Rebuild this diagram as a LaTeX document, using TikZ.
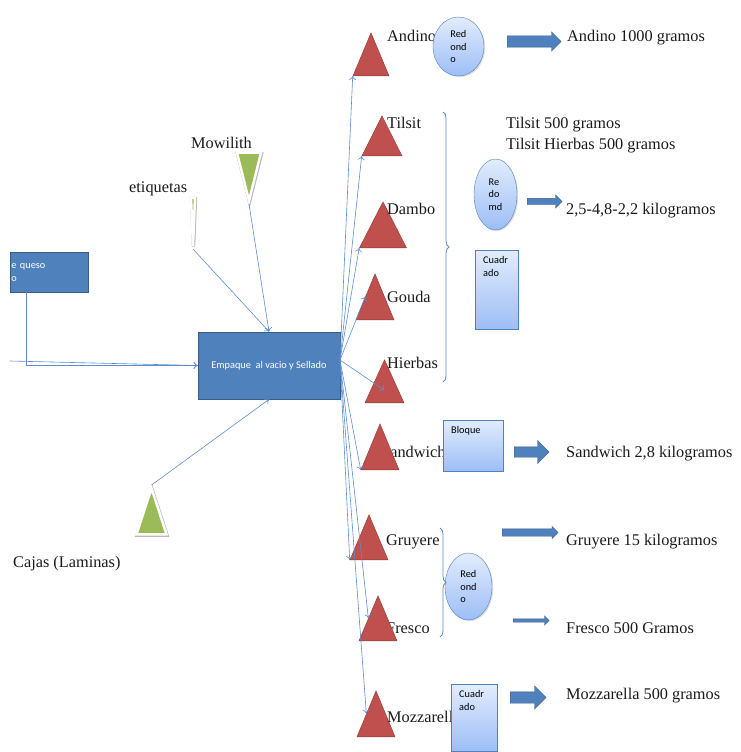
\documentclass[tikz,border=0pt]{standalone}
\usepackage{fontspec}
\setmainfont{Liberation Serif}
\newfontfamily\calibri{Carlito}
\usetikzlibrary{arrows.meta,shapes,shapes.geometric,shapes.arrows,positioning,calc,shadows,decorations.pathreplacing}
\definecolor{boxfill}{RGB}{79,129,189}
\definecolor{boxline}{RGB}{56,93,138}
\definecolor{trifill}{RGB}{192,80,77}
\definecolor{tridark}{RGB}{140,56,54}
\definecolor{greenfill}{RGB}{155,187,89}
\definecolor{linecol}{RGB}{91,141,207}
\definecolor{paletop}{RGB}{226,236,253}
\definecolor{palebottom}{RGB}{156,190,246}
\definecolor{textcol}{RGB}{26,26,26}
\tikzset{
  basic/.style  = {inner sep=0pt, text=textcol, font=\fontsize{16.3}{19}\selectfont},
  lbl/.style    = {basic, anchor=base west},
  bluebox/.style = {draw=boxline, fill=boxfill, thick, text=white, font=\calibri\fontsize{10.3}{12.7}\selectfont},
  qbox/.style   = {bluebox, align=left, text width=76pt, inner xsep=1pt, minimum height=40pt},
  pale/.style   = {draw=boxfill, thin, top color=paletop, bottom color=palebottom, align=left,
  font=\calibri\fontsize{10.3}{12.7}\selectfont,
  drop shadow={opacity=0.25, shadow xshift=1.2pt, shadow yshift=-1.2pt}},
  roundbox/.style = {pale, ellipse, inner sep=0pt},
  squarebox/.style = {pale, rectangle, inner sep=0pt},
  boxtext/.style = {anchor=north west, inner sep=0pt, align=left, xshift=8pt, yshift=-6.5pt,
  font=\calibri\fontsize{10.3}{12.7}\selectfont},
  redtri/.style = {isosceles triangle, isosceles triangle stretches, shape border rotate=90,
  draw=tridark, fill=trifill, inner sep=0pt, anchor=lower side},
  greentri/.style = {isosceles triangle, isosceles triangle stretches, draw=white, line width=2.5pt,
  fill=greenfill, inner sep=0pt,
  preaction={draw=black!28, line width=3.4pt, transform canvas={shift={(0.5pt,-0.9pt)}}}},
  bigarrow/.style = {single arrow, draw=boxline, fill=boxfill, inner xsep=0pt, anchor=tail},
  link/.style   = {->, >={To[length=4pt,width=7pt]}, color=linecol, line width=0.6pt},
  bracket/.style = {decorate, decoration={brace, amplitude=6pt}, color=linecol, line width=0.8pt}
}

\begin{document}
\begin{tikzpicture}[x=1pt,y=-1pt]
\useasboundingbox (0,0) rectangle (740,752);

\node[qbox, anchor=north west] (queso) at (10,252) {e queso\\o};
\node[bluebox, minimum width=142pt, minimum height=67pt] (empaque) at (269,365.5) {Empaque\ \ al vacio y Sellado};

\node[greentri, shape border rotate=270, minimum width=24pt, minimum height=48pt, anchor=apex] (mowilith) at (249,204) {};
\node[greentri, shape border rotate=270, minimum width=4pt, minimum height=48pt, anchor=apex] (etiquetas) at (193,249) {};
\node[greentri, shape border rotate=90, minimum width=30pt, minimum height=46pt, anchor=apex] (cajas) at (151.5,485) {};
\node[lbl] (mowilithLbl) at (191,148) {Mowilith};
\node[lbl] (etiquetasLbl) at (129,192) {etiquetas};
\node[lbl] (cajasLbl) at (13,567) {Cajas (Laminas)};

\node[lbl] (sandwichLbl) at (381,457) {Sandwich};
\node[lbl] (frescoLbl) at (386,633) {Fresco};

\node[redtri, minimum width=36pt, minimum height=43pt] (andino) at (371,76) {};
\node[redtri, minimum width=40pt, minimum height=40pt] (tilsit) at (382,156) {};
\node[redtri, minimum width=47pt, minimum height=46pt] (dambo) at (383,248) {};
\node[redtri, minimum width=38pt, minimum height=46pt] (gouda) at (375,320) {};
\node[redtri, minimum width=39pt, minimum height=43pt] (hierbas) at (384.5,403) {};
\node[redtri, minimum width=38pt, minimum height=46pt] (sandwich) at (380,470) {};
\node[redtri, minimum width=38pt, minimum height=45pt] (gruyere) at (369,560) {};
\node[redtri, minimum width=38pt, minimum height=45pt] (fresco) at (378,641) {};
\node[redtri, minimum width=38pt, minimum height=46pt] (mozzarella) at (376,737) {};

\node[lbl] (andinoLbl) at (387,42) {Andino};
\node[lbl] (tilsitLbl) at (387,128) {Tilsit};
\node[lbl] (damboLbl) at (387,214) {Dambo};
\node[lbl] (goudaLbl) at (387,302) {Gouda};
\node[lbl] (hierbasLbl) at (387,368) {Hierbas};
\node[lbl] (gruyereLbl) at (386,545) {Gruyere};
\node[lbl] (mozzarellaLbl) at (387,722) {Mozzarella};

\node[roundbox, minimum width=51pt, minimum height=59pt] (andinoForm) at (458.5,46.5) {Red\\ond\\o};
\node[roundbox, minimum width=43pt, minimum height=71pt] (damboForm) at (495.5,194.5) {Re\\do\\md};
\node[squarebox, minimum width=43pt, minimum height=79pt, anchor=north west] (tilsitForm) at (475,250) {};
\node[boxtext] (tilsitFormTxt) at (tilsitForm.north west) {Cuadr\\ado};
\node[squarebox, minimum width=60pt, minimum height=51pt, anchor=north west] (sandwichForm) at (443,420) {};
\node[boxtext] (sandwichFormTxt) at (sandwichForm.north west) {Bloque};
\node[roundbox, minimum width=47pt, minimum height=67pt] (gruyereForm) at (468.5,586.5) {Red\\ond\\o};
\node[squarebox, minimum width=46pt, minimum height=67pt, anchor=north west] (mozzarellaForm) at (451,684) {};
\node[boxtext] (mozzarellaFormTxt) at (mozzarellaForm.north west) {Cuadr\\ado};

\node[bigarrow, minimum height=54pt, inner ysep=5.5pt, single arrow head extend=4pt] (andinoArrow) at (507,41.5) {};
\node[bigarrow, minimum height=35pt, inner ysep=3pt, single arrow head extend=3.5pt] (damboArrow) at (527,201.5) {};
\node[bigarrow, minimum height=35pt, inner ysep=5pt, single arrow head extend=6.5pt] (sandwichArrow) at (514,452) {};
\node[bigarrow, minimum height=56pt, inner ysep=3.5pt, single arrow head extend=2.5pt] (gruyereArrow) at (502,532.5) {};
\node[bigarrow, minimum height=36pt, inner ysep=1.5pt, single arrow head extend=3pt] (frescoArrow) at (513,620.5) {};
\node[bigarrow, minimum height=36pt, inner ysep=5.5pt, single arrow head extend=6pt] (mozzarellaArrow) at (510,697.5) {};

\node[lbl] (andinoOut) at (567,42) {Andino 1000 gramos};
\node[lbl] (tilsitOut) at (506,128) {Tilsit 500 gramos};
\node[lbl] (tilsitHierbasOut) at (506,149) {Tilsit Hierbas 500 gramos};
\node[lbl] (damboOut) at (566,214) {2,5-4,8-2,2 kilogramos};
\node[lbl] (sandwichOut) at (566,457) {Sandwich 2,8 kilogramos};
\node[lbl] (gruyereOut) at (566,545) {Gruyere 15 kilogramos};
\node[lbl] (frescoOut) at (566,633) {Fresco 500 Gramos};
\node[lbl] (mozzarellaOut) at (566,699) {Mozzarella 500 gramos};

\draw[bracket] (443,112) -- (443,382);
\draw[bracket] (440,528) -- (440,637);

\coordinate (hub) at (340,360);
\coordinate (quesoDrop) at (26,292);
\coordinate (leftIn) at (10,361);
\path[link] (quesoDrop) edge [to path={|- (\tikztotarget)}] (empaque.west);
\path[link] (leftIn) edge [] (empaque.west);
\path[link] (etiquetas.apex) edge [] (empaque.north);
\path[link] (mowilith.apex) edge [] (empaque.north);
\path[link] (cajas.apex) edge [] (empaque.south);
\path[link] (hub) edge [] (andino.left corner);
\path[link] (hub) edge [] (tilsit.left corner);
\path[link] (hub) edge [] (dambo.left corner);
\path[link] (hub) edge [] (gouda.left side);
\path[link] (hub) edge [] (hierbas.center);
\path[link] (hub) edge [] (sandwich.left corner);
\path[link] (hub) edge [] (gruyere.left corner);
\path[link] (hub) edge [] (fresco.left side);
\path[link] (hub) edge [] (mozzarella.left side);
\end{tikzpicture}
\end{document}
